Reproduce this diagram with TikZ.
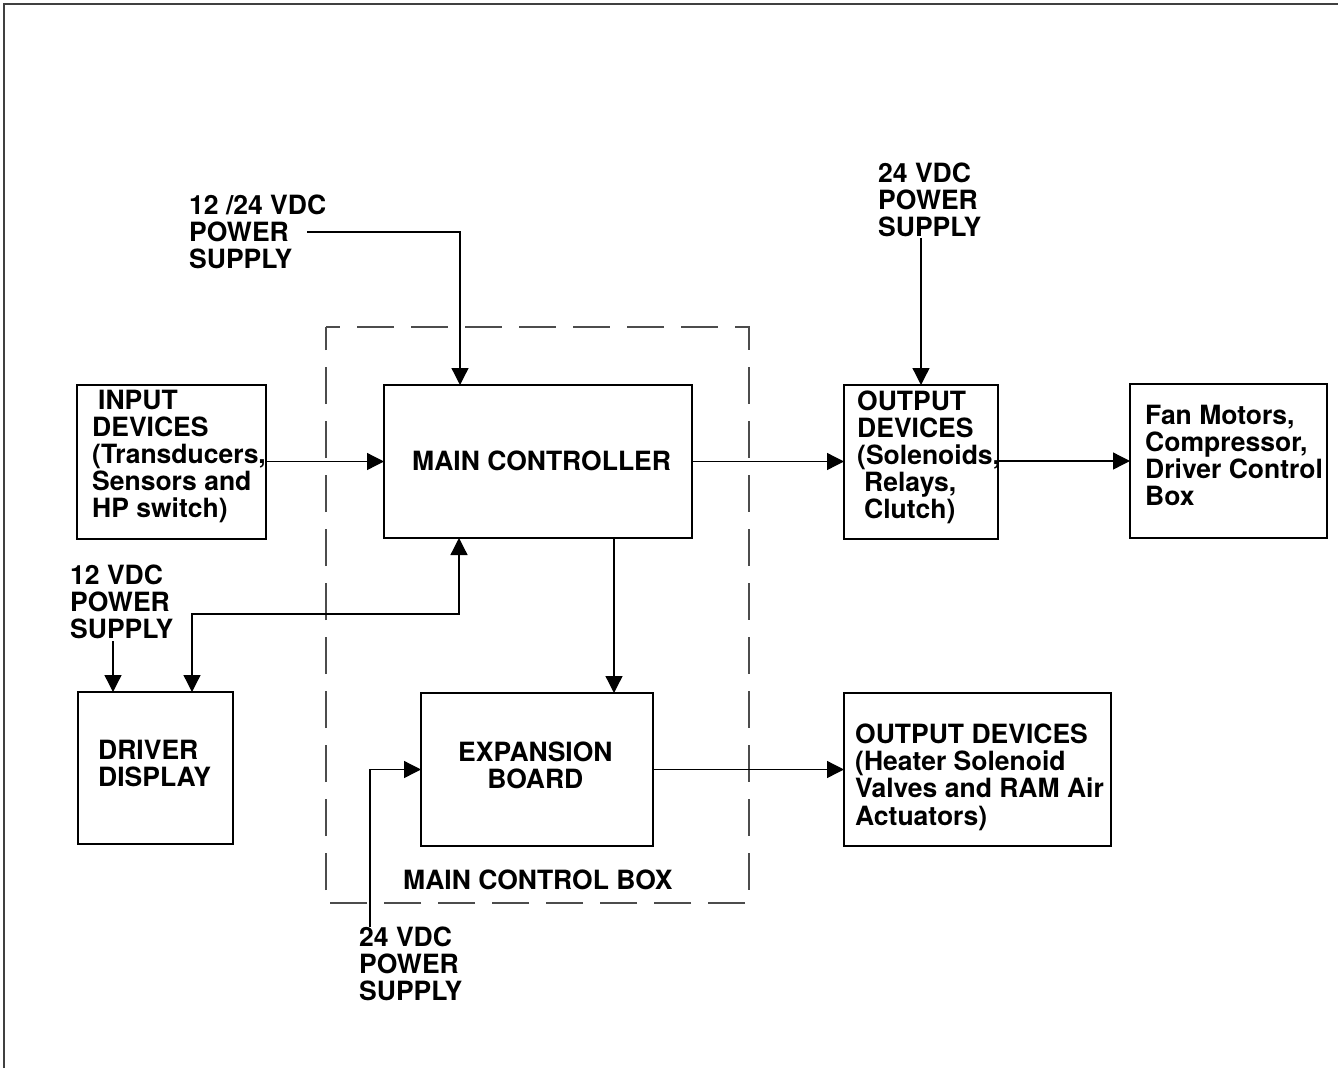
\documentclass[tikz,border=0pt]{standalone}
\usepackage{fontspec}
\setmainfont{TeX Gyre Heros}
\usetikzlibrary{arrows.meta}
\begin{document}
\begin{tikzpicture}[x=1pt,y=-1pt,
  box/.style={draw=black,line width=1.4pt,rectangle,inner sep=0pt,outer sep=0pt},
  lbl/.style={anchor=base west,align=left,inner sep=0pt,font=\fontsize{26.5}{26.8}\selectfont\bfseries},
  arr/.style={line width=1.3pt,-{Triangle[length=17pt,width=17pt]}},
  dbl/.style={line width=1.3pt,{Triangle[length=17pt,width=17pt]}-{Triangle[length=17pt,width=17pt]}}]
\useasboundingbox (0,0) rectangle (1338,1068);
% frame
\draw[line width=2pt,black!75] (4,1068) -- (4,4) -- (1338,4);
% dashed main control box
\draw[line width=1.4pt,black!70,dash pattern=on 37pt off 17pt,dash phase=23pt]
  (326,327) -- (749,327) -- (749,903) -- (326,903) -- cycle;
% boxes
\node[box,minimum width=189pt,minimum height=154pt] (in) at (171.5,462) {};
\node[box,minimum width=308pt,minimum height=153pt] (mc) at (538,461.5) {};
\node[box,minimum width=154pt,minimum height=154pt] (out1) at (921,462) {};
\node[box,minimum width=197pt,minimum height=154pt] (fan) at (1228.5,461) {};
\node[box,minimum width=155pt,minimum height=152pt] (dd) at (155.5,768) {};
\node[box,minimum width=232pt,minimum height=153pt] (exp) at (537,769.5) {};
\node[box,minimum width=267pt,minimum height=153pt] (out2) at (977.5,769.5) {};
% texts (anchor = baseline of the last line)
\node[lbl] (t1224) at (189,268) {12 /24 VDC\\POWER\\SUPPLY};
\node[lbl] (tin) at (92,517) {\hspace{6pt}INPUT\\DEVICES\\(Transducers,\\Sensors and\\HP switch)};
\node[lbl] (tmc) at (412,470) {MAIN CONTROLLER};
\node[lbl] (t24a) at (878,236) {24 VDC\\POWER\\SUPPLY};
\node[lbl] (tout1) at (857,518) {OUTPUT\\DEVICES\\(Solenoids,\\\hspace{7pt}Relays,\\\hspace{7pt}Clutch)};
\node[lbl] (tfan) at (1145,505) {Fan Motors,\\Compressor,\\Driver Control\\Box};
\node[lbl] (t12) at (70,638) {12 VDC\\POWER\\SUPPLY};
\node[lbl] (tdd) at (98,786) {DRIVER\\DISPLAY};
\node[lbl,align=center] (texp) at (458,788) {EXPANSION\\BOARD};
\node[lbl] (tmcb) at (403,889) {MAIN CONTROL BOX};
\node[lbl] (t24b) at (359,1000) {24 VDC\\POWER\\SUPPLY};
\node[lbl,font=\fontsize{26.5}{27.3}\selectfont\bfseries] (tout2) at (855,825) {OUTPUT DEVICES\\(Heater Solenoid\\Valves and RAM Air\\Actuators)};
% connector end points
\coordinate (p1) at (307,232);
\coordinate (p2) at (921,238);
\coordinate (p3) at (113,641);
\coordinate (p4) at (370,927);
\coordinate (jn) at (459,614);
% connectors
\draw[arr] (p1) -| ([xshift=76pt]mc.north west);
\draw[arr] (in.east |- mc.west) -- (mc.west);
\draw[arr] (mc.east) -- (out1.west |- mc.east);
\draw[arr] (out1.east |- fan.west) -- (fan.west);
\draw[arr] (p2) -- (out1.north);
\draw[arr] ([xshift=230pt]mc.south west) -- ([xshift=193pt]exp.north west);
\draw[dbl] ([xshift=75pt]mc.south west) -- (jn) -| ([xshift=114pt]dd.north west);
\draw[arr] (p3) -- ([xshift=35pt]dd.north west);
\draw[arr] (p4) |- (exp.west);
\draw[arr] (exp.east) -- (out2.west);
\end{tikzpicture}
\end{document}
